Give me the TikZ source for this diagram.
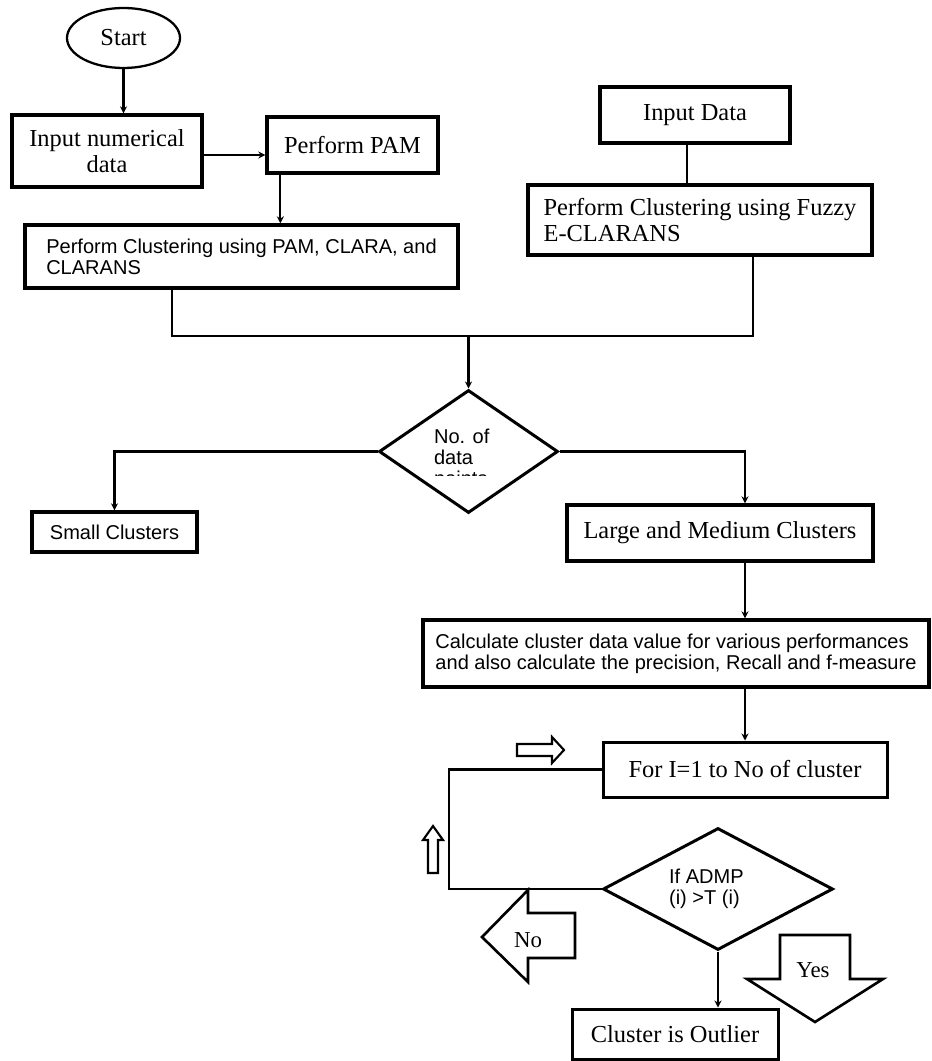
\documentclass[tikz,border=0pt]{standalone}
\usepackage{fontspec}
\setmainfont{Liberation Serif}
\setsansfont{Liberation Sans}
\usetikzlibrary{arrows.meta, shapes.geometric, calc}

\begin{document}
\begin{tikzpicture}[>={Stealth[length=4pt,width=4pt]}, line width=1.25pt,
    box/.style={draw, rectangle, line width=1.9pt, inner sep=0pt, align=center,
        font=\fontsize{13.9pt}{14.4pt}\selectfont},
    sbox/.style={box, align=left, font=\sffamily\fontsize{11.4pt}{12pt}\selectfont},
    dec/.style={draw, diamond, line width=1.7pt, inner sep=0pt},
    stxt/.style={inner sep=0pt, align=left, anchor=north west,
        font=\sffamily\fontsize{11.4pt}{12pt}\selectfont},
    fat/.style={draw, line width=1.5pt, line join=miter},
    lbl/.style={inner sep=0pt, font=\fontsize{13pt}{14pt}\selectfont}]
    \useasboundingbox (0,0) rectangle (18.62,-21.22);

    \node[draw, ellipse, line width=1.3pt, inner sep=0pt, minimum width=2.26cm,
        minimum height=1.2cm, font=\fontsize{13.9pt}{14.4pt}\selectfont] (start) at (2.47,-0.76) {Start};
    \node[box, minimum width=3.8cm, minimum height=1.44cm] (inp) at (2.14,-3.02) {Input numerical\\data};
    \node[box, minimum width=3.42cm, minimum height=1.12cm] (pam) at (7.05,-2.9) {Perform PAM};
    \node[sbox, minimum width=8.66cm, minimum height=1.26cm] (clus) at (4.83,-5.13)
        {Perform Clustering using PAM, CLARA, and\\CLARANS};
    \node[box, minimum width=3.8cm, minimum height=1.12cm] (indata) at (13.9,-2.3) {Input Data};
    \node[box, align=left, minimum width=6.88cm, minimum height=1.4cm] (fuzzy) at (14,-4.4)
        {Perform Clustering using Fuzzy\\E-CLARANS};
    \node[dec, minimum width=3.58cm, minimum height=2.46cm] (dec1) at (9.37,-9.03) {};
    \node[sbox, minimum width=3.3cm, minimum height=0.8cm] (small) at (2.29,-10.64) {Small Clusters};
    \node[box, minimum width=6.12cm, minimum height=1.12cm] (large) at (14.4,-10.66) {Large and Medium Clusters};
    \node[sbox, minimum width=10.12cm, minimum height=1.34cm] (calc) at (13.52,-13.07)
        {Calculate cluster data value for various performances\\and also calculate the precision, Recall and f-measure};
    \node[box, line width=1.7pt, minimum width=5.68cm, minimum height=1.1cm] (loop) at (14.9,-15.39) {For I=1 to No of cluster};
    \node[dec, minimum width=4.6cm, minimum height=2.44cm] (dec2) at (14.36,-17.78) {};
    \node[box, line width=1.7pt, minimum width=4.12cm, minimum height=1cm] (outl) at (13.5,-20.68) {Cluster is Outlier};

    \begin{scope}
        \clip (8.4,-8.3) rectangle (10.4,-9.505);
        \node[stxt] (dec1txt) at (8.66,-8.55) {No. of\\data\\points};
    \end{scope}
    \node[stxt] (dec2txt) at (13.36,-17.35) {If ADMP\\(i) >T (i)};

    \draw[->] (start.south) -- (start.south |- inp.north);
    \draw[->] ([yshift=-0.08cm]inp.east) -- ([yshift=-0.08cm]inp.east -| pam.west);
    \draw[->] ([xshift=0.3cm]pam.south west) -- ([xshift=0.3cm]pam.south west |- clus.north);
    \draw ([xshift=-0.16cm]indata.south) -- ([xshift=-0.16cm]indata.south |- fuzzy.north);
    \coordinate (jl) at (3.44,-6.72);
    \coordinate (jr) at (15.06,-6.72);
    \draw (clus.south -| jl) -- (jl) -- (jr) -- (fuzzy.south -| jr);
    \draw[->] (dec1.north |- jl) -- (dec1.north);
    \draw[->] (dec1.west) -| (small.north);
    \draw[->] (dec1.east) -| ([xshift=0.5cm]large.north);
    \draw[->] ([xshift=0.5cm]large.south) -- ([xshift=0.5cm]large.south |- calc.north);
    \draw[->] (loop.north |- calc.south) -- (loop.north);
    \coordinate (lp) at (8.98,-17.78);
    \draw (loop.west) -| (lp) -- (dec2.west);
    \draw[->] (dec2.south) -- (dec2.south |- outl.north);

    % hollow arrows
    \draw[fat, line width=1.2pt] (10.34,-14.88) -- (11.04,-14.88) -- (11.04,-14.74) -- (11.28,-15)
        -- (11.04,-15.26) -- (11.04,-15.12) -- (10.34,-15.12) -- cycle;
    \draw[fat, line width=1.2pt] (8.56,-17.46) -- (8.56,-16.8) -- (8.46,-16.8) -- (8.66,-16.52)
        -- (8.86,-16.8) -- (8.76,-16.8) -- (8.76,-17.46) -- cycle;
    \draw[fat] (9.64,-18.74) -- (10.56,-17.8) -- (10.56,-18.26) -- (11.5,-18.26) -- (11.5,-19.16)
        -- (10.56,-19.16) -- (10.56,-19.64) -- cycle;
    \node[lbl] (no) at (10.56,-18.8) {No};
    \draw[fat] (15.6,-18.7) -- (17,-18.7) -- (17,-19.58) -- (17.66,-19.58) -- (16.3,-20.44)
        -- (14.94,-19.58) -- (15.6,-19.58) -- cycle;
    \node[lbl] (yes) at (16.26,-19.4) {Yes};
\end{tikzpicture}
\end{document}
